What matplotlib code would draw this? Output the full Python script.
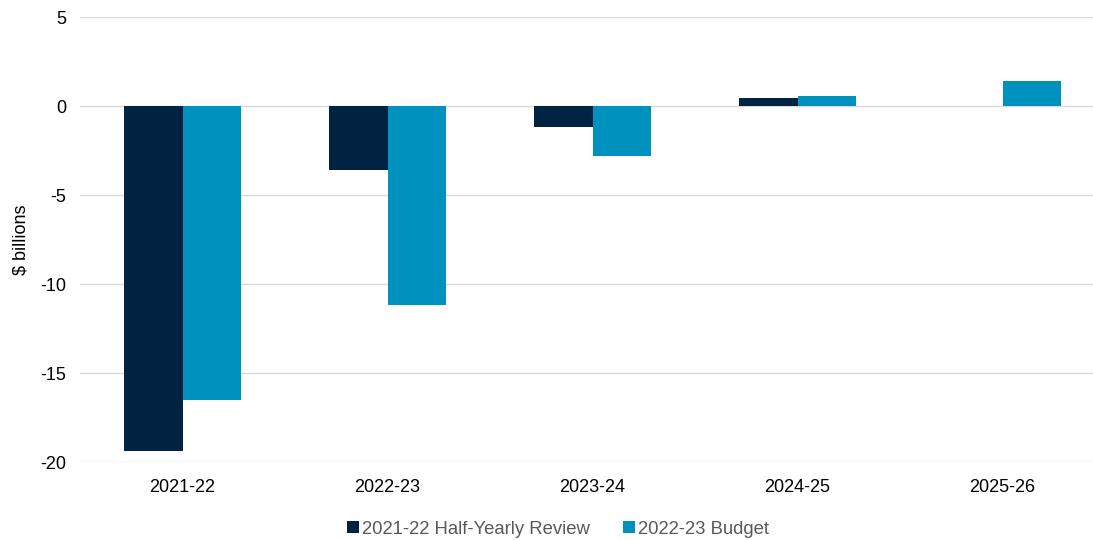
import matplotlib
matplotlib.use("Agg")
import matplotlib.pyplot as plt
import numpy as np

plt.rcParams['font.family'] = ['Liberation Sans', 'DejaVu Sans']

categories = ["2021-22", "2022-23", "2023-24", "2024-25", "2025-26"]
half_yearly = [-19.4, -3.6, -1.2, 0.45, 0.0]
budget = [-16.5, -11.2, -2.8, 0.55, 1.4]
series_names = ["2021-22 Half-Yearly Review", "2022-23 Budget"]
yticks = [5, 0, -5, -10, -15, -20]

fig = plt.figure(figsize=(10.93, 5.40), dpi=100)
ax = fig.add_axes([0.0732, 0.1444, 0.9378, 0.8241])

x = np.arange(len(categories))
w = 0.284
ax.bar(x - w/2, half_yearly, w, color="#002341", label=series_names[0], zorder=3)
ax.bar(x + w/2, budget, w, color="#0092BF", label=series_names[1], zorder=3)

ax.set_xlim(-0.5, len(categories) - 0.5)
ax.set_ylim(-20, 5)
ax.set_yticks(yticks)
ax.set_yticklabels([str(t) for t in yticks])
ax.set_xticks(x)
ax.set_xticklabels(categories)
ax.grid(axis='y', color="#D9D9D9", linewidth=1, zorder=0)
for s in ax.spines.values():
    s.set_visible(False)
ax.tick_params(axis='both', length=0, labelsize=13, colors="black")
ax.tick_params(axis='x', pad=12)
ax.tick_params(axis='y', pad=10)
ax.set_ylabel("$ billions", fontsize=13, labelpad=8)

leg = ax.legend(loc='center', ncol=2, frameon=False,
                fontsize=13.3, handlelength=0.65, handleheight=0.65, columnspacing=1.8,
                handletextpad=0.15, labelcolor="#595959", borderpad=0.1)
leg.set_bbox_to_anchor((558/1093, 1 - 529/540), transform=fig.transFigure)

fig.savefig("out.png", dpi=100)
